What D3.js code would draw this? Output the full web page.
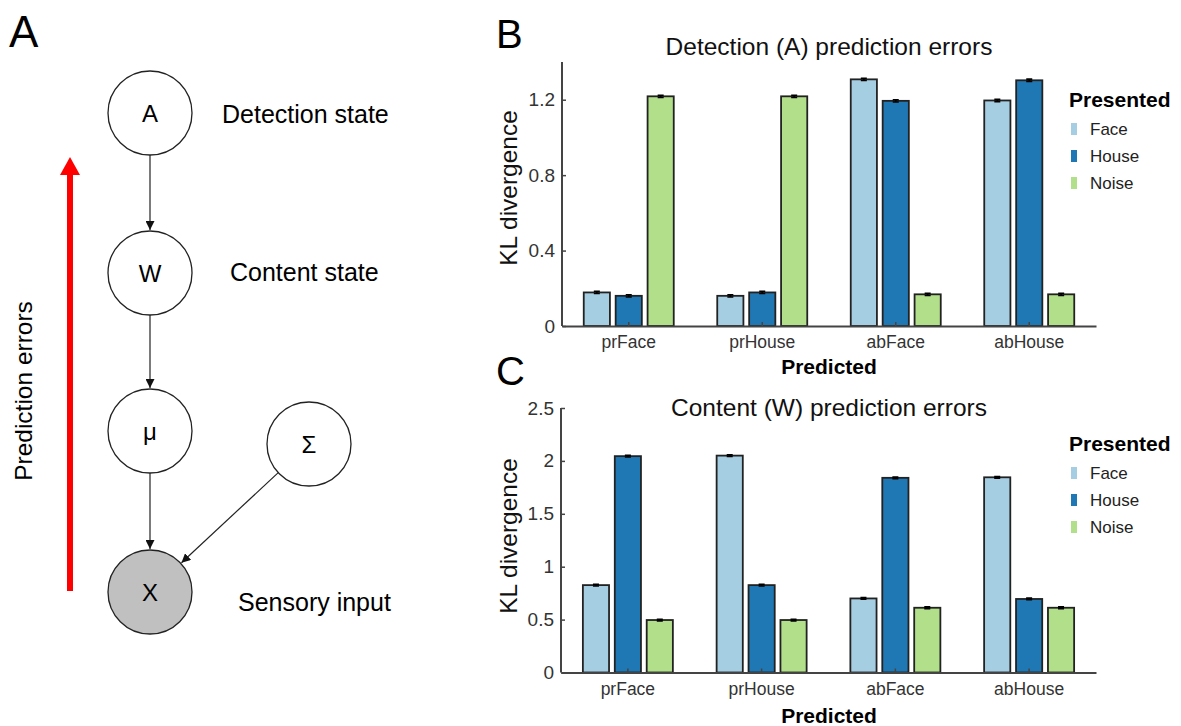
<!DOCTYPE html>
<html>
<head>
<meta charset="utf-8">
<script src="https://cdn.jsdelivr.net/npm/d3@7"></script>
<style>
  body { margin: 0; background: #fff; }
  svg text { font-family: "Liberation Sans", Arial, sans-serif; }
</style>
</head>
<body>
<div id="fig"></div>
<script>
// ---- data ----
const predicted = ["prFace", "prHouse", "abFace", "abHouse"]
const presented = ["Face", "House", "Noise"]
const colors = ["#a6cee3", "#1f78b4", "#b2df8a"]

// detection (A) KL divergence, one array per presented stimulus
const detFace  = [0.178, 0.160, 1.308, 1.196]
const detHouse = [0.160, 0.178, 1.194, 1.303]
const detNoise = [1.218, 1.218, 0.168, 0.168]
const detErr   = [0.006, 0.006, 0.006, 0.006]
const detTicks = [0, 0.4, 0.8, 1.2]

// content (W) KL divergence
const conFace  = [0.826, 2.050, 0.700, 1.845]
const conHouse = [2.045, 0.826, 1.840, 0.695]
const conNoise = [0.496, 0.496, 0.612, 0.612]
const conErr   = [0.008, 0.008, 0.008, 0.008]
const conTicks = [0, 0.5, 1, 1.5, 2, 2.5]
const conTickLabels = ["0", "0.5", "1", "1.5", "2", "2.5"]

const nodeLabels = ["A", "W", "μ", "Σ", "X"]
const stateLabels = ["Detection state", "Content state", "Sensory input"]

const svg = d3.select("#fig").append("svg")
    .attr("width", 1181)
    .attr("height", 726)

svg.append("defs").append("marker")
    .attr("id", "head")
    .attr("viewBox", "0 0 10 10")
    .attr("refX", 10).attr("refY", 5)
    .attr("markerWidth", 9).attr("markerHeight", 9)
    .attr("markerUnits", "userSpaceOnUse")
    .attr("orient", "auto")
  .append("path")
    .attr("d", "M0,0 L10,5 L0,10 z")
    .attr("fill", "#111")

// ---- panel A: graphical model ----
const pa = svg.append("g")
pa.append("text").attr("x", 9).attr("y", 47).attr("font-size", 44).text("A")

const r = 42
const nodes = [
  { x: 150, y: 113 }, { x: 150, y: 273 }, { x: 150, y: 431 },
  { x: 309, y: 444 }, { x: 150, y: 592 }
].map((d, i) => ({ ...d, label: nodeLabels[i] }))
const edges = [[0, 1], [1, 2], [2, 4], [3, 4]]

edges.forEach(([a, b]) => {
  const s = nodes[a], t = nodes[b]
  const dx = t.x - s.x, dy = t.y - s.y, L = Math.hypot(dx, dy)
  pa.append("line")
    .attr("x1", s.x + dx / L * r).attr("y1", s.y + dy / L * r)
    .attr("x2", t.x - dx / L * (r + 1)).attr("y2", t.y - dy / L * (r + 1))
    .attr("stroke", "#222").attr("stroke-width", 1.2)
    .attr("marker-end", "url(#head)")
})

pa.selectAll("circle.node").data(nodes).join("circle")
    .attr("class", "node")
    .attr("cx", d => d.x).attr("cy", d => d.y).attr("r", r)
    .attr("fill", d => d.label === "X" ? "#c0c0c0" : "#fff")
    .attr("stroke", "#222").attr("stroke-width", 1.3)

pa.selectAll("text.nl").data(nodes).join("text")
    .attr("class", "nl")
    .attr("x", d => d.x).attr("y", d => d.y + 9)
    .attr("text-anchor", "middle").attr("font-size", 24)
    .text(d => d.label)

const stateY = [123, 281, 611]
const stateX = [222, 230, 238]
stateLabels.forEach((t, i) => {
  pa.append("text").attr("x", stateX[i]).attr("y", stateY[i])
    .attr("font-size", 25).text(t)
})

// red prediction-error arrow
pa.append("line").attr("x1", 70).attr("y1", 591).attr("x2", 70).attr("y2", 172)
  .attr("stroke", "#ff0000").attr("stroke-width", 6)
pa.append("path").attr("d", "M60,175 L70,157 L80,175 z").attr("fill", "#ff0000")
pa.append("text")
  .attr("transform", "translate(32,391) rotate(-90)")
  .attr("text-anchor", "middle").attr("font-size", 24.5)
  .text("Prediction errors")

// ---- bar panels ----
function barPanel(cfg) {
  const g = svg.append("g")
  const x = d3.scaleBand().domain(predicted).range([cfg.left, 1096])
  const inner = d3.scaleBand().domain(presented).range([-45, 45]).paddingInner(0.18)
  const y = d3.scaleLinear().domain(cfg.domain).range([cfg.bottom, cfg.top])

  g.append("text").attr("x", 496).attr("y", cfg.letterY)
    .attr("font-size", 40).text(cfg.letter)
  g.append("text").attr("x", 829).attr("y", cfg.titleY)
    .attr("text-anchor", "middle").attr("font-size", 24.5).attr("fill", "#111")
    .text(cfg.title)

  const rows = []
  cfg.series.forEach((vals, si) => {
    vals.forEach((v, ci) => rows.push({ cat: predicted[ci], s: presented[si], si, v, e: cfg.err[ci] }))
  })

  g.selectAll("rect.bar").data(rows).join("rect")
      .attr("class", "bar")
      .attr("x", d => x(d.cat) + x.bandwidth() / 2 + inner(d.s))
      .attr("y", d => y(d.v))
      .attr("width", inner.bandwidth())
      .attr("height", d => y(0) - y(d.v))
      .attr("fill", d => colors[d.si])
      .attr("stroke", "#222").attr("stroke-width", 1.8)

  g.selectAll("path.err").data(rows).join("path")
      .attr("class", "err")
      .attr("d", d => {
        const cx = x(d.cat) + x.bandwidth() / 2 + inner(d.s) + inner.bandwidth() / 2
        return `M${cx - 3},${y(d.v + d.e)}H${cx + 3}M${cx},${y(d.v + d.e)}V${y(d.v - d.e)}M${cx - 3},${y(d.v - d.e)}H${cx + 3}`
      })
      .attr("stroke", "#000").attr("stroke-width", 1.6).attr("fill", "none")

  const yAxis = g.append("g")
      .attr("transform", `translate(${cfg.left},0)`)
      .call(d3.axisLeft(y).tickValues(cfg.ticks).tickSizeInner(-4).tickSizeOuter(0)
        .tickPadding(7).tickFormat((d, i) => cfg.tickLabels[i]))
  const xAxis = g.append("g")
      .attr("transform", `translate(0,${cfg.bottom})`)
      .call(d3.axisBottom(x).tickSizeInner(-4).tickSizeOuter(0).tickPadding(10))
  ;[yAxis, xAxis].forEach(a => {
    a.select(".domain").attr("stroke", "#444").attr("stroke-width", 2)
    a.selectAll(".tick line").attr("stroke", "#444").attr("stroke-width", 1.5)
    a.selectAll(".tick text").attr("fill", "#333")
      .attr("font-family", "Liberation Sans, Arial, sans-serif")
  })
  yAxis.selectAll(".tick text").attr("font-size", 19)
  xAxis.selectAll(".tick text").attr("font-size", 17.5)
  yAxis.select(".domain").attr("d", `M0,${cfg.top}V${cfg.bottom}`)

  g.append("text")
    .attr("transform", `translate(517,${cfg.ylabY}) rotate(-90)`)
    .attr("text-anchor", "middle").attr("font-size", 24.5).attr("fill", "#111")
    .text("KL divergence")
  g.append("text").attr("x", 829).attr("y", cfg.xlabY)
    .attr("text-anchor", "middle").attr("font-size", 21).attr("font-weight", "bold")
    .text("Predicted")

  // legend
  const lg = g.append("g").attr("transform", `translate(1069,${cfg.legY})`)
  lg.append("text").attr("x", 0).attr("y", 0)
    .attr("font-size", 21).attr("font-weight", "bold").text("Presented")
  presented.forEach((p, i) => {
    lg.append("rect").attr("x", 2).attr("y", 16 + i * 27).attr("width", 6).attr("height", 12)
      .attr("fill", colors[i])
    lg.append("text").attr("x", 21).attr("y", 28 + i * 27)
      .attr("font-size", 17).attr("fill", "#222").text(p)
  })
}

barPanel({
  letter: "B", letterY: 48, title: "Detection (A) prediction errors", titleY: 55,
  left: 562, top: 62, bottom: 326, domain: [0, 1.4],
  ticks: detTicks, tickLabels: detTicks.map(String),
  series: [detFace, detHouse, detNoise], err: detErr,
  ylabY: 188, xlabY: 374, legY: 107
})

barPanel({
  letter: "C", letterY: 385, title: "Content (W) prediction errors", titleY: 416,
  left: 561, top: 408, bottom: 672.5, domain: [0, 2.5],
  ticks: conTicks, tickLabels: conTickLabels,
  series: [conFace, conHouse, conNoise], err: conErr,
  ylabY: 536, xlabY: 723, legY: 451
})
</script>
</body>
</html>
